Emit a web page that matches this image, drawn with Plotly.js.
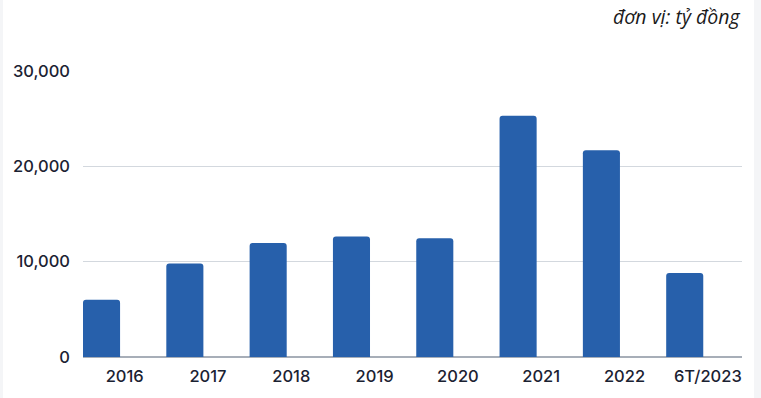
<!DOCTYPE html>
<html>
<head>
<meta charset="utf-8">
<script src="https://cdn.plot.ly/plotly-3.0.1.min.js"></script>
<style>
  html, body { margin: 0; padding: 0; background: #f4f5f7; width: 761px; height: 398px; overflow: hidden; }
  #chart { position: absolute; left: 3px; top: 0; width: 751px; height: 398px; background: #ffffff; }
</style>
</head>
<body>
<div id="chart"></div>
<script>
const categories = ["2016", "2017", "2018", "2019", "2020", "2021", "2022", "6T/2023"];
const values = [6000, 9800, 11950, 12650, 12450, 25300, 21700, 8800];
const yTickValues = [0, 10000, 20000, 30000];
const yTickLabels = ["0", "10,000", "20,000", "30,000"];
const unitLabel = "đơn vị: tỷ đồng";

const trace = {
  type: "bar",
  x: categories,
  y: values,
  offset: -0.5,
  width: 0.445,
  marker: { color: "#2760ab", cornerradius: 3, line: { width: 0 } },
  hoverinfo: "none"
};

const tickFont = { family: "Inter, 'Noto Sans', sans-serif", size: 16.5, color: "#1b2232", weight: 500 };

const layout = {
  width: 751,
  height: 398,
  margin: { l: 80, r: 12, t: 71, b: 41 },
  paper_bgcolor: "#ffffff",
  plot_bgcolor: "#ffffff",
  showlegend: false,
  font: { family: "Inter, 'Noto Sans', sans-serif", size: 16, color: "#1b2232" },
  xaxis: {
    type: "category",
    range: [-0.5, 7.41],
    showgrid: false,
    showline: false,
    zeroline: false,
    ticks: "",
    ticklabelstandoff: 7,
    tickfont: tickFont,
    fixedrange: true
  },
  yaxis: {
    range: [0, 30000],
    tickvals: yTickValues,
    ticktext: yTickLabels,
    showgrid: true,
    gridcolor: "#d3d8de",
    gridwidth: 1,
    zeroline: true,
    zerolinecolor: "#a7aeb8",
    zerolinewidth: 1.5,
    showline: false,
    ticks: "",
    ticklabelstandoff: 12,
    tickfont: tickFont,
    fixedrange: true
  },
  annotations: [{
    text: unitLabel,
    xref: "paper", yref: "paper",
    x: 1, y: 1 + (71 - 16) / 286,
    xanchor: "right", yanchor: "middle",
    showarrow: false,
    font: { family: "'Open Sans', sans-serif", size: 19.5, color: "#1a1a1a", style: "italic" }
  }]
};

Plotly.newPlot("chart", [trace], layout, { displayModeBar: false, staticPlot: true });
</script>
</body>
</html>
